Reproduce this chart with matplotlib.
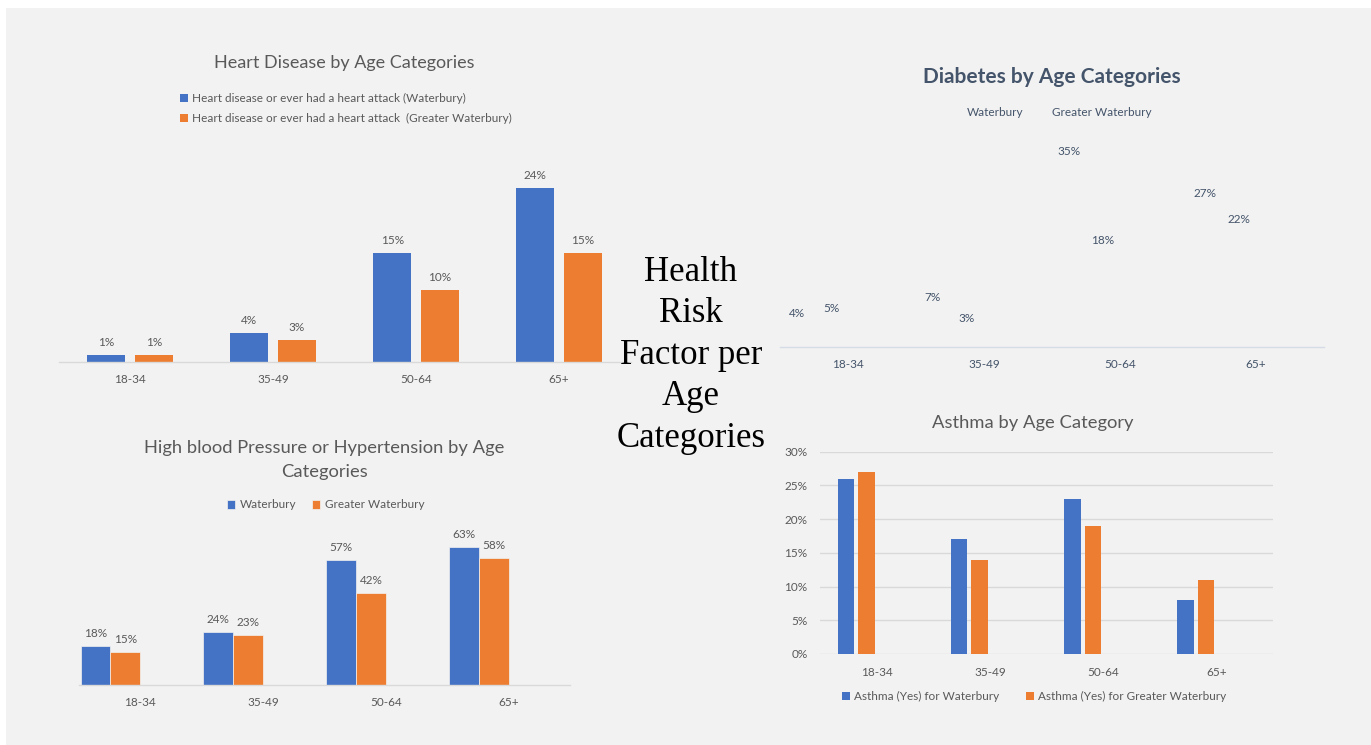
import numpy as np
import matplotlib
matplotlib.use('Agg')
import matplotlib.pyplot as plt
from matplotlib.patches import Rectangle

ages = ['18-34', '35-49', '50-64', '65+']

heart_waterbury = [1, 4, 15, 24]
heart_greater = [1, 3, 10, 15]

diabetes_waterbury = [4, 7, 35, 27]
diabetes_greater = [5, 3, 18, 22]

bp_waterbury = [18, 24, 57, 63]
bp_greater = [15, 23, 42, 58]

asthma_waterbury = [26, 17, 23, 8]
asthma_greater = [27, 14, 19, 11]
asthma_ticks = [0, 5, 10, 15, 20, 25, 30]

side_title = ['Health', 'Risk', 'Factor per', 'Age', 'Categories']

BLUE = '#4472C4'
ORANGE = '#ED7D31'
GREY_TXT = '#595959'
SLATE = '#44546A'
BG = '#F2F2F2'
LINE = '#D9D9D9'

W, H = 1371, 745
plt.rcParams['font.family'] = ['Lato', 'DejaVu Sans']

fig = plt.figure(figsize=(W / 100, H / 100), dpi=100, facecolor='white')
fig.patches.append(Rectangle((6 / W, 0), 1, 1 - 8 / H, transform=fig.transFigure,
                             facecolor=BG, edgecolor='none', zorder=-10))


def fx(x):
    return x / W


def fy(y):
    return 1 - y / H


def px_axes(x0, x1, top, base):
    return fig.add_axes([x0 / W, 1 - base / H, (x1 - x0) / W, (base - top) / H])


def cat_axis(ax, ymax, color=GREY_TXT, spine=LINE):
    ax.set_facecolor('none')
    ax.set_xlim(-0.5, 3.5)
    ax.set_ylim(0, ymax)
    for s in ['top', 'right', 'left']:
        ax.spines[s].set_visible(False)
    ax.spines['bottom'].set_color(spine)
    ax.spines['bottom'].set_linewidth(1.0)
    ax.set_yticks([])
    ax.set_xticks(range(len(ages)))
    ax.set_xticklabels(ages)
    ax.tick_params(axis='x', length=0, pad=9, labelsize=8.5, labelcolor=color)


def value_labels(ax, bars, vals, color=GREY_TXT):
    for b, v in zip(bars, vals):
        ax.annotate(f'{v}%', (b.get_x() + b.get_width() / 2, v), xytext=(0, 9),
                    textcoords='offset points', ha='center', va='center',
                    fontsize=8.5, color=color)


x = np.arange(len(ages))

# heart disease (top left)
ax = px_axes(58.5, 630.5, 150, 362)
cat_axis(ax, (362 - 150) / 7.24)
b1 = ax.bar(x - 0.1664, heart_waterbury, 0.2657, color=BLUE,
            label='Heart disease or ever had a heart attack (Waterbury)')
b2 = ax.bar(x + 0.1664, heart_greater, 0.2657, color=ORANGE,
            label='Heart disease or ever had a heart attack  (Greater Waterbury)')
value_labels(ax, b1, heart_waterbury)
value_labels(ax, b2, heart_greater)
ax.legend(loc='center left', bbox_to_anchor=(fx(180), fy(108.5)), bbox_transform=fig.transFigure,
          frameon=False, fontsize=8.5, labelcolor=GREY_TXT, handlelength=0.7, handleheight=0.7,
          handletextpad=0.3, borderpad=0, borderaxespad=0, labelspacing=0.8)
fig.text(fx(344), fy(63.3), 'Heart Disease by Age Categories', ha='center', va='center',
         fontsize=13, color=GREY_TXT)

# diabetes (top right) - bars have no fill, only the labels show
ax = px_axes(780, 1323.6, 140, 346.7)
cat_axis(ax, (346.7 - 140) / 5.22, color=SLATE, spine='#D6DCE5')
b1 = ax.bar(x - 0.375, diabetes_waterbury, 0.25, color='none', label='Waterbury')
b2 = ax.bar(x - 0.125, diabetes_greater, 0.25, color='none', label='Greater Waterbury')
value_labels(ax, b1, diabetes_waterbury, SLATE)
value_labels(ax, b2, diabetes_greater, SLATE)
ax.legend(loc='center', bbox_to_anchor=(fx(1053), fy(112)), bbox_transform=fig.transFigure,
          ncol=2, frameon=False, fontsize=8.5, labelcolor=SLATE, handlelength=0.7,
          handleheight=0.7, handletextpad=0.3, borderpad=0, columnspacing=1.4)
fig.text(fx(1051.6), fy(76.7), 'Diabetes by Age Categories', ha='center', va='center',
         fontsize=15, fontweight='bold', color=SLATE)

# high blood pressure (bottom left)
ax = px_axes(78.6, 570, 520, 685)
cat_axis(ax, (685 - 520) / 2.19)
b1 = ax.bar(x - 0.3627, bp_waterbury, 0.2418, color=BLUE, edgecolor=BG, linewidth=0.5,
            label='Waterbury')
b2 = ax.bar(x - 0.1209, bp_greater, 0.2418, color=ORANGE, edgecolor=BG, linewidth=0.5,
            label='Greater Waterbury')
value_labels(ax, b1, bp_waterbury)
value_labels(ax, b2, bp_greater)
ax.legend(loc='center', bbox_to_anchor=(fx(325.5), fy(505)), bbox_transform=fig.transFigure,
          ncol=2, frameon=False, fontsize=8.5, labelcolor=GREY_TXT, handlelength=0.7,
          handleheight=0.7, handletextpad=0.4, borderpad=0, columnspacing=1.3)
fig.text(fx(324.3), fy(448), 'High blood Pressure or Hypertension by Age', ha='center',
         va='center', fontsize=13.2, color=GREY_TXT)
fig.text(fx(324.3), fy(471.7), 'Categories', ha='center', va='center', fontsize=13.2,
         color=GREY_TXT)

# asthma (bottom right)
ax = px_axes(820, 1272.9, 451.7, 654)
ax.set_facecolor('none')
ax.set_xlim(-0.5, 3.5)
ax.set_ylim(0, 30)
for s in ax.spines.values():
    s.set_visible(False)
ax.set_yticks(asthma_ticks)
ax.set_yticklabels([f'{t}%' for t in asthma_ticks])
ax.grid(axis='y', color=LINE, linewidth=1.0)
ax.set_axisbelow(True)
ax.set_xticks(range(len(ages)))
ax.set_xticklabels(ages)
ax.tick_params(length=0, labelsize=8.5, labelcolor=GREY_TXT)
ax.tick_params(axis='y', pad=9)
ax.tick_params(axis='x', pad=9)
ax.bar(x - 0.2717, asthma_waterbury, 0.1458, color=BLUE, label='Asthma (Yes) for Waterbury')
ax.bar(x - 0.0906, asthma_greater, 0.1458, color=ORANGE, label='Asthma (Yes) for Greater Waterbury')
ax.legend(loc='center', bbox_to_anchor=(fx(1034), fy(696.7)), bbox_transform=fig.transFigure,
          ncol=2, frameon=False, fontsize=8.5, labelcolor=GREY_TXT, handlelength=0.7,
          handleheight=0.7, handletextpad=0.3, borderpad=0, columnspacing=2.3)
fig.text(fx(1032.5), fy(423.3), 'Asthma by Age Category', ha='center', va='center',
         fontsize=13.2, color=GREY_TXT)

# slide heading in the middle
for i, line in enumerate(side_title):
    fig.text(fx(691), fy(280.7 + 41.5 * i), line, ha='center', va='baseline',
             family='Liberation Serif', fontsize=25, color='black')

fig.savefig('out.png', dpi=100, facecolor=fig.get_facecolor())
